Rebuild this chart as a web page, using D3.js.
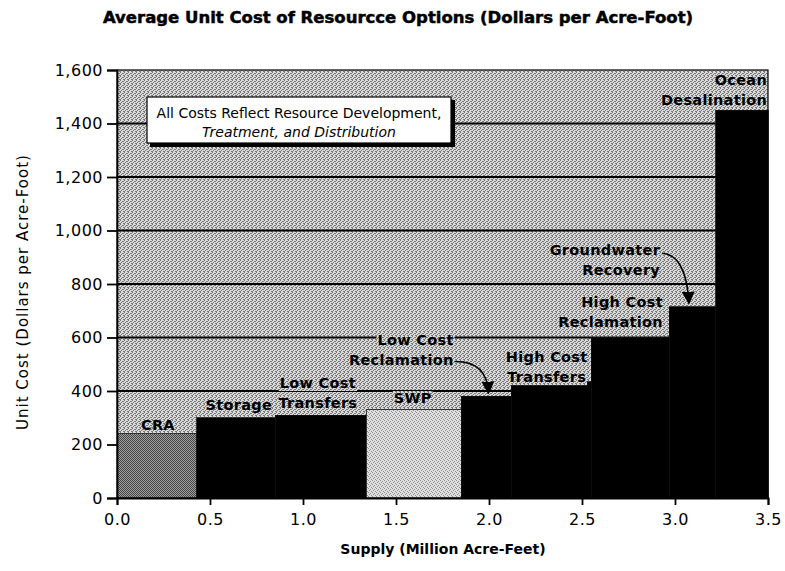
<!DOCTYPE html>
<html>
<head>
<meta charset="utf-8">
<script src="https://cdn.jsdelivr.net/npm/d3@7"></script>
<style>
  body { margin: 0; background: #fff; }
  text { font-family: "DejaVu Sans", sans-serif; }
</style>
</head>
<body>
<script>
// resource options, left to right along the supply curve
const sources = ["CRA", "Storage", "Low Cost Transfers", "SWP", "Low Cost Reclamation",
                 "High Cost Transfers", "High Cost Reclamation", "Groundwater Recovery", "Ocean Desalination"];
const supply = [0.43, 0.42, 0.49, 0.51, 0.27, 0.43, 0.42, 0.25, 0.28];   // million acre-feet
const unitCost = [240, 300, 310, 330, 380, 435, 600, 715, 1450];        // dollars per acre-foot

const xTicks = [0, 0.5, 1.0, 1.5, 2.0, 2.5, 3.0, 3.5];
const yTicks = [0, 200, 400, 600, 800, 1000, 1200, 1400, 1600];
const gridValues = [200, 400, 600, 800, 1000, 1200, 1400];

// bar labels (lines), anchored in data units
const labelLines = [["CRA"], ["Storage"], ["Low Cost", "Transfers"], ["SWP"], ["Low Cost", "Reclamation"],
                    ["High Cost", "Transfers"], ["High Cost", "Reclamation"], ["Groundwater", "Recovery"], ["Ocean", "Desalination"]];
const labelX = [0.22, 0.655, 1.08, 1.59, 1.81, 2.31, 2.935, 2.92, 3.495];
const labelY = [254, 329, 411, 355, 572, 508, 714, 908, 1544];
const labelAnchor = ["middle", "middle", "middle", "middle", "end", "middle", "end", "end", "end"];

const W = 785, H = 571;
const svg = d3.select("body").append("svg").attr("width", W).attr("height", H);
const defs = svg.append("defs");

const x = d3.scaleLinear().domain([0, 3.5]).range([117, 768]);
const y = d3.scaleLinear().domain([0, 1600]).range([498, 70]);

// stipple textures like the scanned print
function dither(id, light, dark, dots){
    let p = defs.append("pattern").attr("id", id).attr("patternUnits", "userSpaceOnUse")
        .attr("width", 4).attr("height", 4);
    p.append("rect").attr("width", 4).attr("height", 4).attr("fill", light);
    dots.forEach(d => p.append("rect").attr("x", d[0]).attr("y", d[1])
        .attr("width", 1).attr("height", 1).attr("fill", dark));
}
dither("bg", "#dadada", "#777", [[0,0],[2,1],[1,2],[3,3],[3,1],[0,3]]);
dither("cra", "#a0a0a0", "#444", [[0,0],[2,0],[1,1],[3,1],[0,2],[2,2],[1,3],[3,3]]);
dither("swp", "#e0e0e0", "#8c8c8c", [[0,0],[2,1],[3,3],[1,2]]);
const barFill = {"CRA": "url(#cra)", "SWP": "url(#swp)"};

// plot background
svg.append("rect").attr("x", x(0)).attr("y", y(1600))
    .attr("width", x(3.5) - x(0)).attr("height", y(0) - y(1600))
    .attr("fill", "url(#bg)");

// gridlines
svg.append("g").selectAll("line").data(gridValues).join("line")
    .attr("x1", x(0)).attr("x2", x(3.5))
    .attr("y1", d => y(d)).attr("y2", d => y(d))
    .attr("stroke", "#000").attr("stroke-width", 1.8);

// step bars
const starts = d3.cumsum([0].concat(supply.slice(0, -1)));
svg.append("g").selectAll("rect").data(sources).join("rect")
    .attr("x", (d, i) => x(starts[i]))
    .attr("width", (d, i) => x(starts[i] + supply[i]) - x(starts[i]))
    .attr("y", (d, i) => y(unitCost[i]))
    .attr("height", (d, i) => y(0) - y(unitCost[i]))
    .attr("fill", d => barFill[d] || "#000")
    .attr("stroke", "#111").attr("stroke-width", 0.8)
    .attr("shape-rendering", "crispEdges");

// labels with background boxes that hide the gridlines
const lab = svg.append("g");
labelLines.forEach((lines, i) => {
    lines.forEach((t, k) => {
        let tx = lab.append("text")
            .attr("x", x(labelX[i]))
            .attr("y", y(labelY[i]) + k * (y(0) - y(75)))
            .attr("text-anchor", labelAnchor[i])
            .attr("font-size", 14.5).attr("font-weight", "bold")
            .attr("letter-spacing", 0.3)
            .text(t);
        let b = tx.node().getBBox();
        lab.insert("rect", "text:last-child")
            .attr("x", b.x - 1).attr("y", b.y + 1)
            .attr("width", b.width + 2).attr("height", b.height - 1)
            .attr("fill", "url(#bg)");
    });
});

// arrows
defs.append("marker").attr("id", "head").attr("viewBox", "0 0 10 10")
    .attr("refX", 9).attr("refY", 5).attr("markerWidth", 8).attr("markerHeight", 8)
    .attr("orient", "auto")
    .append("path").attr("d", "M0,0 L10,5 L0,10 Z").attr("fill", "#000");
const arrows = [
    [[1.815, 510], [1.99, 512], [1.997, 392]],
    [[2.93, 915], [3.06, 910], [3.075, 728]]
];
svg.append("g").selectAll("path").data(arrows).join("path")
    .attr("d", d => `M${x(d[0][0])},${y(d[0][1])} Q${x(d[1][0])},${y(d[1][1])} ${x(d[2][0])},${y(d[2][1])}`)
    .attr("fill", "none").attr("stroke", "#000").attr("stroke-width", 1.6)
    .attr("marker-end", "url(#head)");

// note box with shadow
const note = svg.append("g");
note.append("rect").attr("x", 150).attr("y", 100).attr("width", 305).attr("height", 47).attr("fill", "#000");
note.append("rect").attr("x", 147).attr("y", 97).attr("width", 304).attr("height", 46)
    .attr("fill", "#fff").attr("stroke", "#000").attr("stroke-width", 1.2);
note.append("text").attr("x", 299).attr("y", 118).attr("text-anchor", "middle")
    .attr("font-size", 14).text("All Costs Reflect Resource Development,");
note.append("text").attr("x", 299).attr("y", 137).attr("text-anchor", "middle")
    .attr("font-size", 14).attr("font-style", "italic").text("Treatment, and Distribution");

// frame
svg.append("rect").attr("x", x(0)).attr("y", y(1600))
    .attr("width", x(3.5) - x(0)).attr("height", y(0) - y(1600))
    .attr("fill", "none").attr("stroke", "#000").attr("stroke-width", 1.2);

// axes
const yAxis = svg.append("g").attr("transform", `translate(${x(0)},0)`)
    .call(d3.axisLeft(y).tickValues(yTicks).tickSize(10).tickPadding(4).tickFormat(d3.format(",")));
const xAxis = svg.append("g").attr("transform", `translate(0,${y(0)})`)
    .call(d3.axisBottom(x).tickValues(xTicks).tickSize(7).tickPadding(9).tickFormat(d3.format(".1f")));
[yAxis, xAxis].forEach(a => {
    a.select(".domain").attr("stroke-width", 1.8);
    a.selectAll(".tick line").attr("stroke-width", 1.8);
    a.selectAll("text").attr("font-family", "DejaVu Sans").attr("font-size", 16)
        .attr("letter-spacing", 0.5).attr("fill", "#000");
});

// titles
svg.append("text").attr("x", 398).attr("y", 23).attr("text-anchor", "middle")
    .attr("font-family", "Liberation Sans").attr("font-weight", "bold").attr("font-size", 16.5)
    .attr("stroke", "#000").attr("stroke-width", 0.5)
    .text("Average Unit Cost of Resourcce Options (Dollars per Acre-Foot)");
svg.append("text").attr("transform", `translate(28,${(y(0) + y(1600)) / 2 + 8}) rotate(-90)`)
    .attr("text-anchor", "middle").attr("font-size", 15).attr("letter-spacing", 1)
    .text("Unit Cost (Dollars per Acre-Foot)");
svg.append("text").attr("x", 443).attr("y", 554).attr("text-anchor", "middle")
    .attr("font-size", 14).attr("font-weight", "bold")
    .text("Supply (Million Acre-Feet)");
</script>
</body>
</html>
